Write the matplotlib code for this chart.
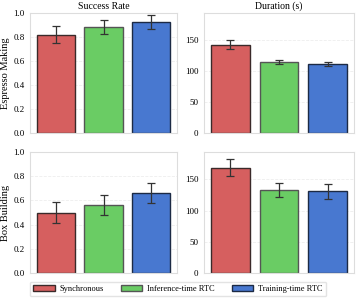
import matplotlib
matplotlib.use("Agg")
import matplotlib.pyplot as plt
from matplotlib.patches import Patch

plt.rcParams['font.family'] = ['Liberation Serif', 'DejaVu Serif']

methods = ["Synchronous", "Inference-time RTC", "Training-time RTC"]
colors = ["#d65f5f", "#6acc64", "#4878d0"]
edges = ["#3a2a2a", "#555555", "#1c2a44"]

tasks = ["Espresso Making", "Box Building"]
metrics = ["Success Rate", "Duration (s)"]

espresso_success = [0.82, 0.885, 0.925]
espresso_success_err = [0.07, 0.06, 0.055]
espresso_duration = [143, 115, 111]
espresso_duration_err = [8, 3, 3]
box_success = [0.50, 0.56, 0.66]
box_success_err = [0.088, 0.083, 0.082]
box_duration = [169, 133, 131]
box_duration_err = [13, 11, 12]

data = [
    [(espresso_success, espresso_success_err), (espresso_duration, espresso_duration_err)],
    [(box_success, box_success_err), (box_duration, box_duration_err)],
]

fig = plt.figure(figsize=(3.57, 3.0), dpi=100)
lefts = [30/357, 204/357]
widths = [147/357, 150/357]
bottoms = [1 - 133/300, 1 - 273/300]
heights = [120/300, 121/300]

for r in range(2):
    for c in range(2):
        ax = fig.add_axes([lefts[c], bottoms[r], widths[c], heights[r]])
        vals, errs = data[r][c]
        x = range(len(methods))
        ax.bar(x, vals, width=0.8, color=colors, edgecolor=edges, linewidth=1.0,
               yerr=errs, error_kw=dict(ecolor="#333333", elinewidth=0.9, capsize=3, capthick=0.9),
               zorder=2)
        ax.set_xticks([])
        if c == 0:
            ax.set_ylim(0, 1.0)
            ax.set_yticks([0, 0.2, 0.4, 0.6, 0.8, 1.0])
            ax.set_yticklabels(["0.0", "0.2", "0.4", "0.6", "0.8", "1.0"])
            ax.set_ylabel(tasks[r], fontsize=7.5, labelpad=2)
        else:
            ax.set_ylim(0, 194)
            ax.set_yticks([0, 50, 100, 150])
        ax.tick_params(axis='y', length=0, labelsize=6.5, pad=4)
        ax.grid(axis='y', color="#eeeeee", linewidth=0.6, linestyle='--', zorder=0)
        ax.set_axisbelow(True)
        for s in ax.spines.values():
            s.set_color("#dddddd")
            s.set_linewidth(0.8)
        if r == 0:
            ax.set_title(metrics[c], fontsize=7, pad=3)

handles = [Patch(facecolor=colors[i], edgecolor=edges[i], label=methods[i]) for i in range(3)]
fig.legend(handles=handles, loc='center', bbox_to_anchor=(178/357, 1 - 289/300), ncol=3,
           fontsize=6, frameon=True, edgecolor="#dddddd", handlelength=2.6, handleheight=0.7,
           columnspacing=2.0, borderpad=0.4, handletextpad=0.6)

fig.savefig("out.png", dpi=100)
